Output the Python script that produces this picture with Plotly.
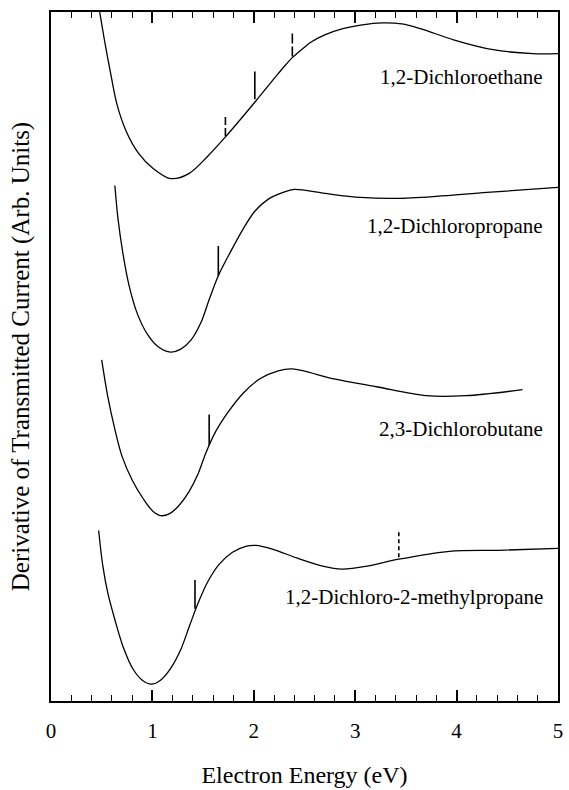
import plotly.graph_objects as go

# Electron energy (eV) and derivative signal (arbitrary units) for each compound
names = ["1,2-Dichloroethane", "1,2-Dichloropropane", "2,3-Dichlorobutane",
         "1,2-Dichloro-2-methylpropane"]

dce_x = [0.48, 0.53, 0.59, 0.65, 0.74, 0.86, 1.01, 1.18, 1.36, 1.55, 1.72, 2.01,
         2.21, 2.30, 2.38, 2.47, 2.57, 2.70, 2.87, 3.07, 3.26, 3.46, 3.65,
         3.97, 4.36, 4.75, 5.00]
dce_y = [695, 665, 632, 602, 575, 553, 537, 527, 532, 550, 569, 604,
         629, 640, 649, 657, 665, 672, 678, 682, 684, 683, 678,
         667, 657, 653, 653]

dcp_x = [0.63, 0.66, 0.71, 0.77, 0.85, 0.95, 1.06, 1.18, 1.28, 1.38, 1.48, 1.56,
         1.65, 1.77, 1.90, 2.01, 2.14, 2.29, 2.40, 2.70, 3.05, 3.41, 3.80, 4.30, 5.00]
dcp_y = [520, 487, 451, 419, 391, 370, 357, 352, 355, 364, 382, 405,
         429, 453, 477, 494, 506, 513, 516, 512, 508, 507, 509, 513, 518]

dcb_x = [0.50, 0.56, 0.63, 0.70, 0.80, 0.91, 1.00, 1.08, 1.17, 1.26, 1.36, 1.45,
         1.53, 1.63, 1.75, 1.90, 2.06, 2.24, 2.38, 2.79, 3.21, 3.70, 4.09, 4.65]
dcb_y = [344, 307, 274, 247, 223, 204, 192, 187, 189, 197, 211, 229,
         251, 273, 292, 311, 325, 333, 335, 325, 317, 308, 308, 314]

dcm_x = [0.47, 0.51, 0.56, 0.63, 0.71, 0.81, 0.90, 0.99, 1.08, 1.18, 1.28, 1.37,
         1.46, 1.55, 1.66, 1.79, 1.92, 2.02, 2.19, 2.43, 2.68, 2.87, 3.12, 3.43,
         3.93, 4.41, 5.00]
dcm_y = [172, 137, 109, 82, 55, 32, 21, 17, 21, 33, 52, 77,
         101, 121, 138, 150, 156, 157, 153, 144, 136, 133, 136, 143,
         151, 152, 154]

# Resonance markers: energy, lower end, upper end, dash pattern
mark_x = [1.72, 2.01, 2.38, 1.65, 1.56, 1.42, 3.43]
mark_lo = [570, 607, 650, 429, 258, 93, 145]
mark_hi = [592, 635, 674, 459, 289, 122, 172]
mark_dash = ["8px,3px", "solid", "10px,3px", "solid", "solid", "solid", "4px,3px"]

# Label positions (right edge energy, signal level)
label_x = [4.87, 4.87, 4.87, 4.87]
label_y = [629, 479, 274, 105]

x_ticks = [0, 1, 2, 3, 4, 5]

FONT = "Liberation Serif"

fig = go.Figure()

for xs, ys in [(dce_x, dce_y), (dcp_x, dcp_y), (dcb_x, dcb_y), (dcm_x, dcm_y)]:
    fig.add_trace(go.Scatter(x=xs, y=ys, mode="lines",
                             line=dict(color="black", width=1.3, shape="spline", smoothing=0.9),
                             showlegend=False, hoverinfo="skip"))

for mx, lo, hi, dash in zip(mark_x, mark_lo, mark_hi, mark_dash):
    fig.add_trace(go.Scatter(x=[mx, mx], y=[lo, hi], mode="lines",
                             line=dict(color="black", width=1.6, dash=dash),
                             showlegend=False, hoverinfo="skip"))

for name, lx, ly in zip(names, label_x, label_y):
    fig.add_annotation(x=lx, y=ly, text=name, showarrow=False, xanchor="right",
                       yanchor="middle", font=dict(family=FONT, size=21, color="black"))

axis_common = dict(showline=True, linecolor="black", linewidth=2, mirror="ticks",
                   showgrid=False, zeroline=False)

fig.update_xaxes(range=[0, 5], tickvals=x_ticks, ticktext=[str(t) for t in x_ticks],
                 ticks="inside", ticklen=11, tickwidth=1.5, tickcolor="black",
                 minor=dict(dtick=0.2, ticks="inside", ticklen=6, tickwidth=1.3,
                            tickcolor="black", showgrid=False),
                 ticklabelstandoff=10,
                 tickfont=dict(family=FONT, size=21, color="black"),
                 title=dict(text="Electron Energy (eV)", standoff=24,
                            font=dict(family=FONT, size=24, color="black")),
                 **axis_common)

fig.update_yaxes(range=[0, 695], showticklabels=False, ticks="",
                 title=dict(text="Derivative of Transmitted Current (Arb. Units)", standoff=12,
                            font=dict(family=FONT, size=25, color="black")),
                 **axis_common)

fig.update_layout(width=569, height=790, plot_bgcolor="white", paper_bgcolor="white",
                  margin=dict(l=51, r=6, t=12, b=83), showlegend=False)

fig.write_html("out.html")
